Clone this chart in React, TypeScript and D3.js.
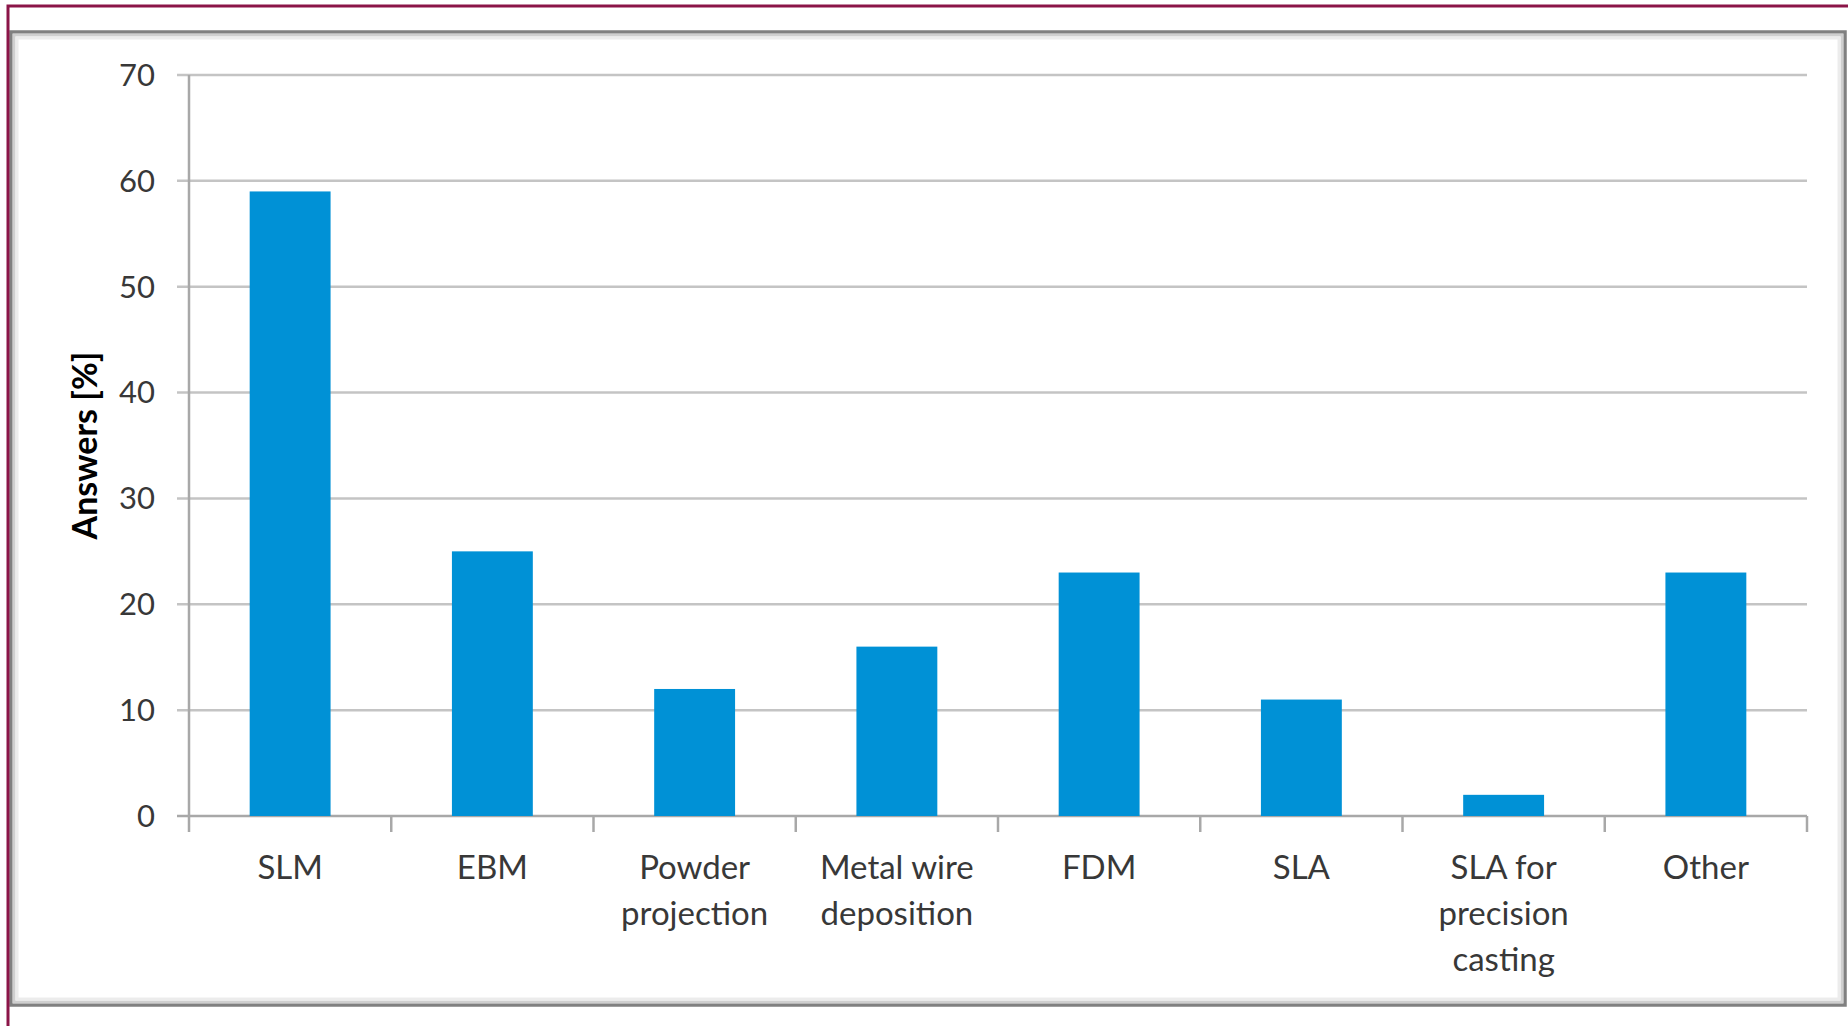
import React, { useEffect, useRef } from 'react';
import * as d3 from 'd3';

const categories = ['SLM', 'EBM', 'Powder projection', 'Metal wire deposition', 'FDM', 'SLA', 'SLA for precision casting', 'Other'];
const labelLines = [['SLM'], ['EBM'], ['Powder', 'projection'], ['Metal wire', 'deposition'], ['FDM'], ['SLA'], ['SLA for', 'precision', 'casting']
  , ['Other']];
const answers = [59, 25, 12, 16, 23, 11, 2, 23];
const yTicks = [0, 10, 20, 30, 40, 50, 60, 70];

const App = () => {
  const chartRef = useRef<SVGSVGElement>(null);

  useEffect(() => {
    const W = 1848;
    const H = 1026;
    const margin = { top: 75, right: 41, bottom: 210, left: 189 };
    const width = W - margin.left - margin.right;
    const height = H - margin.top - margin.bottom;
    const font = 'Lato, "Open Sans", sans-serif';

    const root = d3.select(chartRef.current);
    root.selectAll('*').remove();

    root.append('rect').attr('width', W).attr('height', H).attr('fill', '#fff');

    // outer frame, darker edge + soft inner shade
    root.append('rect')
      .attr('x', 11).attr('y', 32)
      .attr('width', 1834).attr('height', 973)
      .attr('fill', '#fff')
      .attr('stroke', '#808080')
      .attr('stroke-width', 3.5);
    root.append('rect')
      .attr('x', 14).attr('y', 35)
      .attr('width', 1828).attr('height', 967)
      .attr('fill', 'none')
      .attr('stroke', '#cfcfcf')
      .attr('stroke-width', 3);
    root.append('rect')
      .attr('x', 17).attr('y', 38)
      .attr('width', 1822).attr('height', 961)
      .attr('fill', 'none')
      .attr('stroke', '#ececec')
      .attr('stroke-width', 3);
    root.append('path')
      .attr('d', 'M8,1026V6H1848')
      .attr('fill', 'none')
      .attr('stroke', '#8b1548')
      .attr('stroke-width', 3);

    const svg = root.append('g').attr('transform', `translate(${margin.left},${margin.top})`);

    const x = d3.scaleBand().domain(categories).range([0, width]).paddingInner(0.6).paddingOuter(0.3);
    const band = d3.scaleBand().domain(categories).range([0, width]);
    const y = d3.scaleLinear().domain([0, 70]).range([height, 0]);

    // gridlines + y ticks
    svg.append('g')
      .selectAll('line')
      .data(yTicks)
      .join('line')
      .attr('x1', -12)
      .attr('x2', width)
      .attr('y1', d => y(d))
      .attr('y2', d => y(d))
      .attr('stroke', d => (d === 0 ? '#a8a8a8' : '#c4c4c4'))
      .attr('stroke-width', 2.5);

    svg.append('g')
      .selectAll('text')
      .data(yTicks)
      .join('text')
      .attr('x', -34)
      .attr('y', d => y(d))
      .attr('dy', '0.35em')
      .attr('text-anchor', 'end')
      .attr('fill', '#383838')
      .style('font-family', font)
      .style('font-size', '31px')
      .text(d => d);

    // y axis line
    svg.append('line')
      .attr('x1', 0).attr('x2', 0)
      .attr('y1', 0).attr('y2', height + 16)
      .attr('stroke', '#a8a8a8')
      .attr('stroke-width', 2.5);

    // category ticks
    svg.append('g')
      .selectAll('line')
      .data(categories)
      .join('line')
      .attr('x1', d => band(d)! + band.bandwidth())
      .attr('x2', d => band(d)! + band.bandwidth())
      .attr('y1', height)
      .attr('y2', height + 16)
      .attr('stroke', '#a8a8a8')
      .attr('stroke-width', 2.5);

    // bars
    svg.append('g')
      .selectAll('rect')
      .data(answers)
      .join('rect')
      .attr('x', (d, i) => x(categories[i])!)
      .attr('width', x.bandwidth())
      .attr('y', d => y(d))
      .attr('height', d => height - y(d))
      .attr('fill', '#0091d6');

    // category labels
    const lbl = svg.append('g')
      .selectAll('text')
      .data(categories)
      .join('text')
      .attr('text-anchor', 'middle')
      .attr('fill', '#383838')
      .style('font-family', font)
      .style('font-size', '33px');
    lbl.each(function (d, i) {
      const t = d3.select(this);
      labelLines[i].forEach((line, j) => {
        t.append('tspan')
          .attr('x', band(d)! + band.bandwidth() / 2)
          .attr('y', height + 51 + j * 46)
          .attr('dy', '0.35em')
          .text(line);
      });
    });

    // y title
    svg.append('text')
      .attr('transform', `translate(-104,${height / 2}) rotate(-90)`)
      .attr('text-anchor', 'middle')
      .attr('dy', '0.35em')
      .attr('fill', '#000')
      .style('font-family', font)
      .style('font-weight', 'bold')
      .style('font-size', '34px')
      .text('Answers [%]');
  }, []);

  return (
    <svg ref={chartRef} width={1848} height={1026} style={{ position: 'absolute', left: 0, top: 0 }} />
  );
};

export default App;
